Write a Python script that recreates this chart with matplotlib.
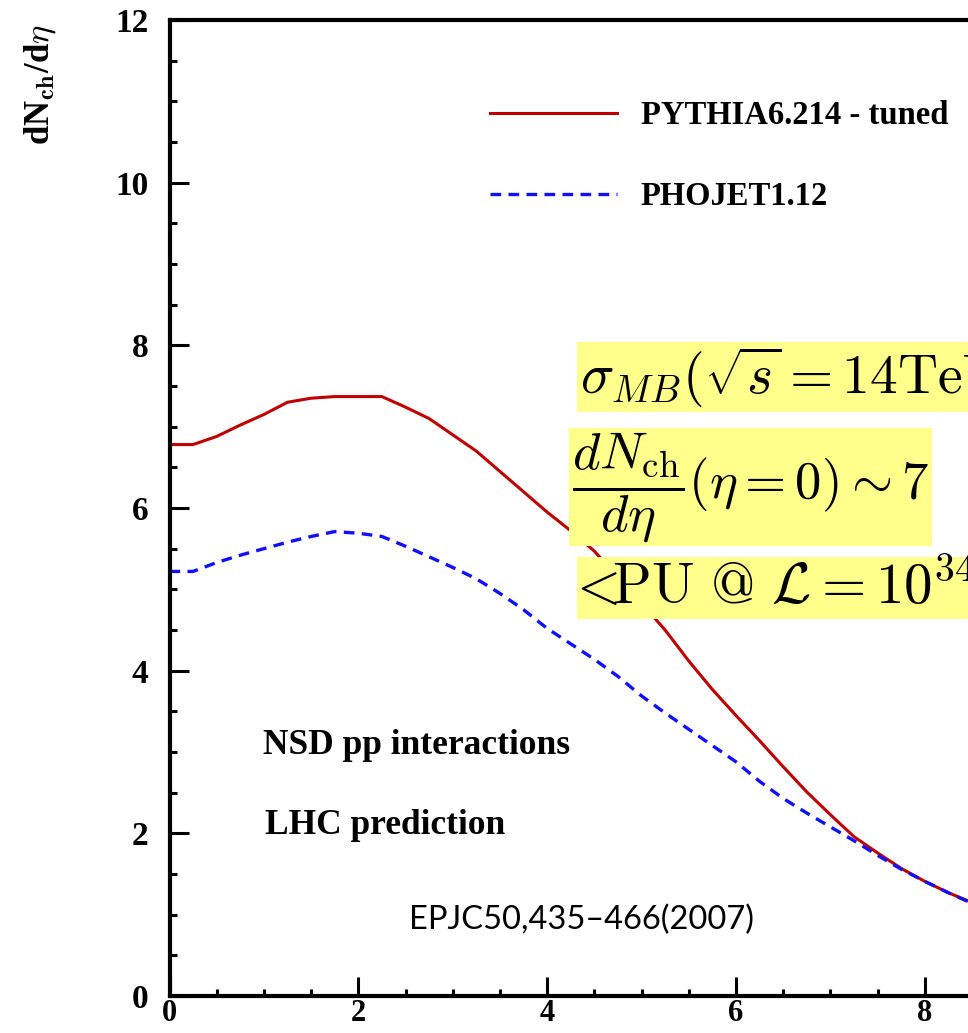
import numpy as np
import matplotlib
matplotlib.use("Agg")
import matplotlib.pyplot as plt
from matplotlib.ticker import MultipleLocator

plt.rcParams['mathtext.fontset'] = 'cm'

# pseudorapidity grid and the two generator predictions
eta = [0.0, 0.25, 0.5, 0.75, 1.0, 1.25, 1.5, 1.75, 2.0, 2.25, 2.5, 2.75, 3.0,
       3.25, 3.5, 3.75, 4.0, 4.25, 4.5, 4.75, 5.0, 5.25, 5.5, 5.75, 6.0, 6.25,
       6.5, 6.75, 7.0, 7.25, 7.5, 7.75, 8.0, 8.25, 8.5, 8.75]
pythia = [6.78, 6.78, 6.88, 7.02, 7.15, 7.30, 7.35, 7.37, 7.37, 7.37, 7.24,
          7.10, 6.90, 6.70, 6.45, 6.20, 5.95, 5.72, 5.47, 5.15, 4.83, 4.50,
          4.12, 3.77, 3.45, 3.14, 2.82, 2.51, 2.23, 1.96, 1.76, 1.57, 1.41,
          1.27, 1.15, 1.05]
phojet = [5.22, 5.22, 5.33, 5.42, 5.50, 5.58, 5.65, 5.71, 5.69, 5.65, 5.53,
          5.40, 5.27, 5.13, 4.95, 4.75, 4.52, 4.33, 4.14, 3.93, 3.69, 3.48,
          3.28, 3.08, 2.88, 2.64, 2.43, 2.25, 2.08, 1.91, 1.73, 1.56, 1.41,
          1.27, 1.14, 1.04]

W, H = 968, 1033
fig = plt.figure(figsize=(W / 100, H / 100), dpi=100)

def fx(px):
    return px / W

def fy(py):
    return 1 - py / H

x0, y0, ytop = 169.5, 996, 20
px_per_unit = 94.4
ax = fig.add_axes([fx(x0), fy(y0), 10 * px_per_unit / W, (y0 - ytop) / H])

serif = 'Liberation Serif'

ax.plot(eta, pythia, color='#c00000', lw=2.2, label='PYTHIA6.214 - tuned')
ax.plot(eta, phojet, color='#1010ff', lw=2.4, dashes=(3.2, 2.2),
        label='PHOJET1.12')

ax.set_xlim(0, 10)
ax.set_ylim(0, 12)
ax.xaxis.set_major_locator(MultipleLocator(2))
ax.xaxis.set_minor_locator(MultipleLocator(0.5))
ax.yaxis.set_major_locator(MultipleLocator(2))
ax.yaxis.set_minor_locator(MultipleLocator(0.5))
ax.tick_params(which='both', direction='in', width=2.2)
ax.tick_params(which='major', length=14)
ax.tick_params(which='minor', length=5)
ax.tick_params(axis='y', which='major', pad=15)
ax.tick_params(axis='x', which='major', pad=2)
for s in ax.spines.values():
    s.set_linewidth(3)
for lab in ax.get_yticklabels():
    lab.set_fontfamily(serif)
    lab.set_fontweight('bold')
    lab.set_fontsize(24)
for lab in ax.get_xticklabels():
    lab.set_fontfamily(serif)
    lab.set_fontweight('bold')
    lab.set_fontsize(22)

fig.text(fx(40), fy(24), r'dN$_{\mathbf{ch}}$/d$\mathbf{\eta}$', rotation=90,
         ha='center', va='top', family=serif, weight='bold', fontsize=25)

leg = ax.legend(loc='upper left', bbox_to_anchor=(fx(490), fy(100)),
                bbox_transform=fig.transFigure, frameon=False,
                prop=dict(family=serif, weight='bold', size=23.5),
                handlelength=3.9, handletextpad=0.72, labelspacing=1.53,
                borderpad=0, borderaxespad=0)

fig.text(fx(263), fy(745), 'NSD pp interactions', ha='left', va='center',
         family=serif, weight='bold', fontsize=25.5)
fig.text(fx(265), fy(826), 'LHC prediction', ha='left', va='center',
         family=serif, weight='bold', fontsize=25.5)
fig.text(fx(582), fy(920), 'EPJC50,435\u2013466(2007)', ha='center',
         va='center', family='Lato', fontsize=23.5)

box = dict(boxstyle='square,pad=0.05', fc='#ffff8c', ec='none')
fig.text(fx(580), fy(377), r'$\sigma_{MB}(\sqrt{s}=14\mathrm{TeV})\sim70\mathrm{mb}$',
         ha='left', va='center', fontsize=40, bbox=box)
fig.text(fx(572), fy(487), r'$\dfrac{dN_{\mathrm{ch}}}{d\eta}(\eta=0)\sim7$',
         ha='left', va='center', fontsize=38, bbox=box)
fig.text(fx(580), fy(588), r'$\!\!<\!\!\mathrm{PU}\ @\ \mathcal{L}=10^{34}\mathrm{cm}^{-2}\mathrm{s}^{-1}>\sim25$',
         ha='left', va='center', fontsize=41, bbox=box)

fig.savefig('out.png', dpi=100)
